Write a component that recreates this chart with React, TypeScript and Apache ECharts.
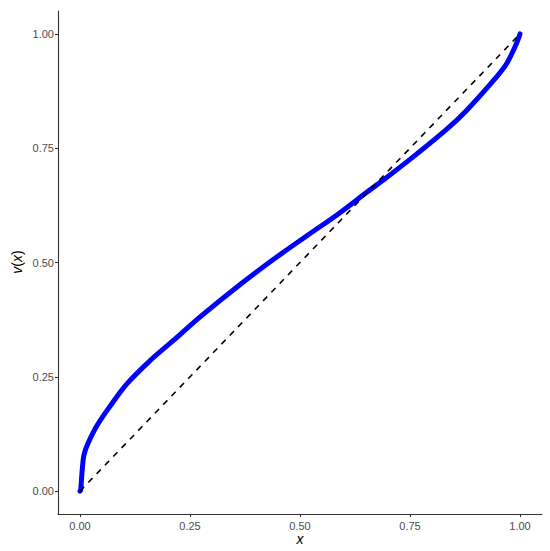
import React, { useEffect, useRef } from "react";
import * as echarts from "echarts";

const curveX = [0, 0.0015, 0.005, 0.009, 0.018, 0.039, 0.07, 0.107, 0.16, 0.213, 0.273, 0.364, 0.44, 0.515, 0.591, 0.651, 0.697, 0.765, 0.833, 0.878, 0.938, 0.969, 0.987, 0.997, 1.0];
const curveY = [0, 0.002, 0.046, 0.079, 0.104, 0.144, 0.188, 0.235, 0.286, 0.33, 0.381, 0.452, 0.507, 0.558, 0.609, 0.653, 0.686, 0.737, 0.791, 0.832, 0.896, 0.934, 0.968, 0.991, 1.0];
const diagX = [0, 1];
const diagY = [0, 1];
const tickValues = [0, 0.25, 0.5, 0.75, 1];

export default function App() {
  const ref = useRef<HTMLDivElement>(null);
  useEffect(() => {
    if (!ref.current) return;
    const chart = echarts.init(ref.current, null, { renderer: "svg" });
    const axisCommon = {
      type: "value",
      min: -0.05,
      max: 1.05,
      splitLine: { show: false },
      axisLine: { show: true, onZero: false, lineStyle: { color: "#333333", width: 1.1 } },
      axisTick: { show: true, length: 3, customValues: tickValues, lineStyle: { color: "#333333", width: 1.1 } },
      axisLabel: {
        customValues: tickValues,
        color: "#4D4D4D",
        fontSize: 11,
        fontFamily: "Liberation Sans, Arial, sans-serif",
        formatter: (v: number) => v.toFixed(2),
      },
    };
    chart.setOption({
      animation: false,
      backgroundColor: "#ffffff",
      grid: { left: 58, right: 8, top: 11, bottom: 37, containLabel: false },
      xAxis: { ...axisCommon, axisLabel: { ...axisCommon.axisLabel, margin: 6 } },
      yAxis: { ...axisCommon, axisLabel: { ...axisCommon.axisLabel, margin: 4 } },
      series: [
        {
          type: "line",
          data: curveX.map((x, i) => [x, curveY[i]]),
          smooth: 0.35,
          showSymbol: false,
          lineStyle: { color: "#0000FF", width: 5, cap: "round", join: "round" },
        },
        {
          type: "line",
          data: diagX.map((x, i) => [x, diagY[i]]),
          showSymbol: false,
          lineStyle: { color: "#000000", width: 1.6, type: [6, 6] },
        },
      ],
      graphic: [
        {
          type: "text",
          x: 300,
          y: 539,
          style: {
            text: "x",
            fontSize: 14,
            fontStyle: "italic",
            fontFamily: "Liberation Sans, Arial, sans-serif",
            fill: "#000000",
            align: "center",
            verticalAlign: "middle",
          },
        },
        {
          type: "text",
          x: 17,
          y: 262,
          rotation: Math.PI / 2,
          style: {
            text: "{i|v}{n|(}{i|x}{n|)}",
            align: "center",
            verticalAlign: "middle",
            rich: {
              i: { fontSize: 14, fontStyle: "italic", fontFamily: "Liberation Sans, Arial, sans-serif", fill: "#000000" },
              n: { fontSize: 14, fontFamily: "Liberation Sans, Arial, sans-serif", fill: "#000000" },
            },
          },
        },
      ],
    });
    return () => chart.dispose();
  }, []);
  return <div ref={ref} style={{ width: 550, height: 551, position: "absolute", left: 0, top: 0 }} />;
}
